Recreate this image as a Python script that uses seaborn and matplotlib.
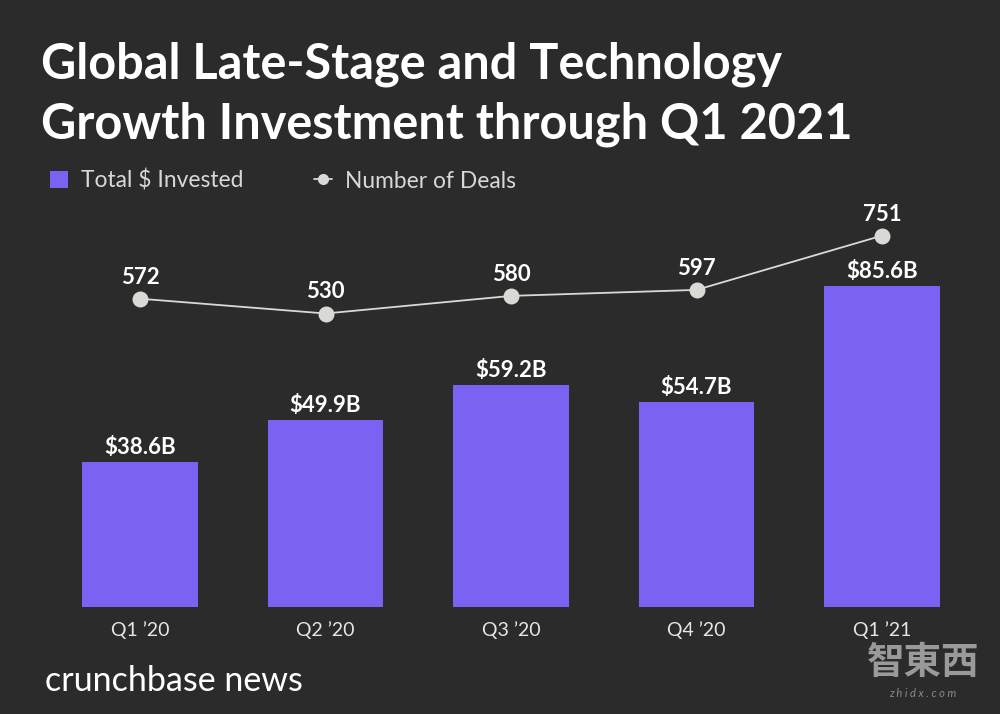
import matplotlib
matplotlib.use('Agg')
import matplotlib.pyplot as plt
from matplotlib.lines import Line2D
from matplotlib.patches import Patch
import pandas as pd
import seaborn as sns

quarters = ["Q1 ’20", "Q2 ’20", "Q3 ’20", "Q4 ’20", "Q1 ’21"]
invested = [38.6, 49.9, 59.2, 54.7, 85.6]
deals = [572, 530, 580, 597, 751]
title = "Global Late-Stage and Technology\nGrowth Investment through Q1 2021"

BG = '#2b2b2b'
PURPLE = '#7b62f3'
LIGHT = '#d9d9d6'

sns.set_theme(style='dark')
plt.rcParams['font.family'] = ['Lato', 'DejaVu Sans']

df = pd.DataFrame({'quarter': quarters, 'invested': invested, 'deals': deals})

fig = plt.figure(figsize=(10, 7.14), dpi=100, facecolor=BG)
ax = fig.add_axes([0.04725, 0.1499, 0.9275, 0.6])
ax.set_facecolor(BG)

# bars
sns.barplot(data=df, x='quarter', y='invested', color=PURPLE, saturation=1,
            width=0.625, linewidth=0, edgecolor='none', ax=ax)
ax.set_ylim(0, 114.2)
ax.set_xlim(-0.5, 4.5)
ax.set_xlabel('')
ax.set_ylabel('')
ax.set_yticks([])
ax.tick_params(axis='x', length=0, colors='#e6e6e6', labelsize=14, pad=10.5)
sns.despine(ax=ax, left=True, bottom=True)

for i, v in enumerate(invested):
    ax.annotate(f'${v}B', (i, v), xytext=(0, 3), textcoords='offset points',
                ha='center', va='bottom', color='white', fontsize=16, fontweight='bold')

# deals line on its own scale
ax2 = ax.twinx()
sns.lineplot(data=df, x='quarter', y='deals', color=LIGHT, linewidth=1.3,
             marker='o', markersize=11.5, markerfacecolor=LIGHT,
             markeredgewidth=0, ax=ax2)
ax2.set_ylim(-303, 913)
ax2.set_yticks([])
ax2.set_ylabel('')
ax2.set_xlabel('')
sns.despine(ax=ax2, left=True, bottom=True, right=True)

for i, v in enumerate(deals):
    ax2.annotate(str(v), (i, v), xytext=(0, 8), textcoords='offset points',
                 ha='center', va='bottom', color='white', fontsize=16, fontweight='bold')

fig.text(0.041, 0.868, title, color='white', fontsize=35, fontweight='bold',
         ha='left', va='center', linespacing=1.38)

handles = [Patch(color=PURPLE, linewidth=0),
           Line2D([], [], color=LIGHT, lw=1.3, marker='o', markersize=8, markeredgewidth=0)]
fig.legend(handles, ['Total $ Invested', 'Number of Deals'], ncol=2, frameon=False,
           loc='center left', bbox_to_anchor=(0.029, 0.747), fontsize=16.4, labelcolor='#d8d8d8',
           handlelength=0.8, handleheight=0.8, columnspacing=3.1, handletextpad=0.57)

fig.text(0.045, 0.046, 'crunchbase news', color='white', fontsize=24.5, ha='left', va='center')

# watermark, bottom right
fig.text(0.923, 0.072, '智東西', color='#9a9a9a', fontsize=27, fontweight='bold',
         family=['Noto Sans CJK TC', 'DejaVu Sans'], ha='center', va='center')
fig.text(0.923, 0.029, 'z h i d x . c o m', color='#8a8a8a', fontsize=8, style='italic',
         ha='center', va='center')

fig.savefig('out.png', dpi=100, facecolor=BG)
